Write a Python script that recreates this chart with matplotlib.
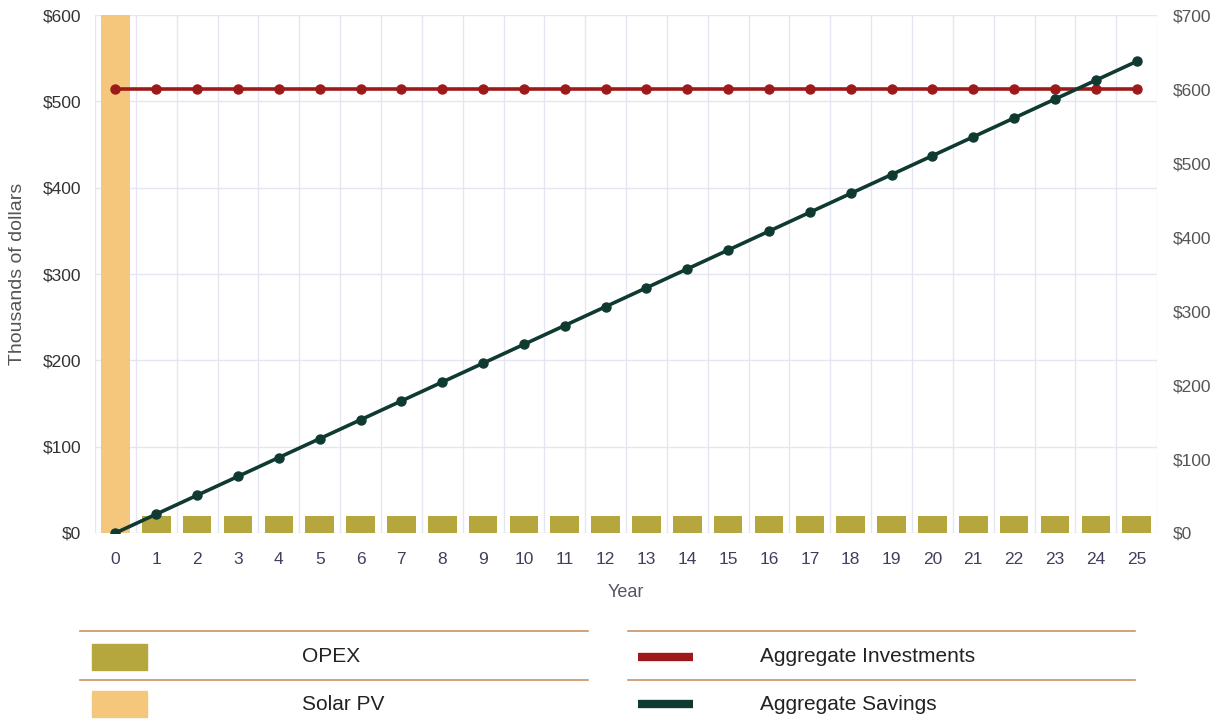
import matplotlib
matplotlib.use("Agg")
import matplotlib.pyplot as plt
from matplotlib.lines import Line2D
from matplotlib.patches import Rectangle
from matplotlib.ticker import FuncFormatter, MultipleLocator, FixedLocator

plt.rcParams['font.family'] = ['Liberation Sans', 'DejaVu Sans']

# Data (thousands of dollars)
years = list(range(26))
solar_pv = [600] + [0] * 25
opex = [0] + [20] * 25
aggregate_investments = [600] * 26
aggregate_savings = [0, 25.5, 51.0, 76.5, 102.0, 127.5, 153.0, 178.5, 204.0, 229.5,
                     255.0, 280.5, 306.0, 331.5, 357.0, 382.5, 408.0, 433.5, 459.0,
                     484.5, 510.0, 535.5, 561.0, 586.5, 612.0, 637.5]

C_OPEX = '#b5a63e'
C_SOLAR = '#f5c77c'
C_INV = '#9e1a1a'
C_SAV = '#0f3a32'
C_GRID = '#e6e6f2'
C_RULE = '#c69468'

fig = plt.figure(figsize=(12.23, 7.23), dpi=100)
fig.patch.set_facecolor('white')
ax = fig.add_axes([0.0777, 0.2628, 0.8684, 0.7162])
ax2 = ax.twinx()

ax.bar(years, solar_pv, width=0.7, color=C_SOLAR, zorder=2)
ax.bar(years, opex, width=0.7, color=C_OPEX, zorder=2)

ax2.plot(years, aggregate_investments, color=C_INV, lw=2.6, marker='o', ms=6.5, zorder=3)
ax2.plot(years, aggregate_savings, color=C_SAV, lw=2.6, marker='o', ms=6.5, zorder=4)

ax.set_xlim(-0.5, 25.5)
ax.set_ylim(0, 600)
ax2.set_ylim(0, 700)

money = FuncFormatter(lambda v, p: f"${v:,.0f}")
ax.yaxis.set_major_locator(MultipleLocator(100))
ax.yaxis.set_major_formatter(money)
ax2.yaxis.set_major_locator(MultipleLocator(100))
ax2.yaxis.set_major_formatter(money)
ax.set_xticks(years)
ax.xaxis.set_minor_locator(FixedLocator([y - 0.5 for y in years] + [25.5]))

ax.grid(True, axis='y', which='major', color=C_GRID, lw=1, zorder=0)
ax.grid(True, axis='x', which='minor', color=C_GRID, lw=1, zorder=0)
ax.grid(False, axis='x', which='major')
ax.set_axisbelow(True)

for a in (ax, ax2):
    for s in a.spines.values():
        s.set_visible(False)
ax.tick_params(axis='both', which='both', length=0)
ax2.tick_params(axis='both', which='both', length=0)
ax.tick_params(axis='y', labelsize=12.5, labelcolor='#333333', pad=10)
ax.tick_params(axis='x', labelsize=12.5, labelcolor='#3f3f5e', pad=14)
ax2.tick_params(axis='y', labelsize=12.5, labelcolor='#555555', pad=11)

ax.set_ylabel('Thousands of dollars', fontsize=14, color='#555555', labelpad=12)
ax.set_xlabel('Year', fontsize=13, color='#555566', labelpad=12)

# Legend drawn as a two-column table with rules
def fx(px):
    return px / 1223

def fy(py):
    return 1 - py / 723

cols = [
    (80, 588, [(C_OPEX, 'patch', 'OPEX'), (C_SOLAR, 'patch', 'Solar PV')], 302),
    (628, 1135, [(C_INV, 'line', 'Aggregate Investments'), (C_SAV, 'line', 'Aggregate Savings')], 760),
]
row_y = [657, 704]
rule_y = [631, 680]
for x0, x1, items, tx in cols:
    for ry in rule_y:
        fig.add_artist(Line2D([fx(x0), fx(x1)], [fy(ry), fy(ry)], color=C_RULE, lw=1.2))
    for (color, kind, label), yy in zip(items, row_y):
        if kind == 'patch':
            fig.add_artist(Rectangle((fx(x0 + 12), fy(yy + 13)), fx(55), 26 / 723,
                                     color=color, transform=fig.transFigure))
        else:
            fig.add_artist(Line2D([fx(x0 + 10), fx(x0 + 65)], [fy(yy), fy(yy)],
                                  color=color, lw=6, solid_capstyle='butt'))
        fig.text(fx(tx), fy(yy), label, fontsize=15, color='#222222', va='center', ha='left')

fig.savefig('out.png', dpi=100)
